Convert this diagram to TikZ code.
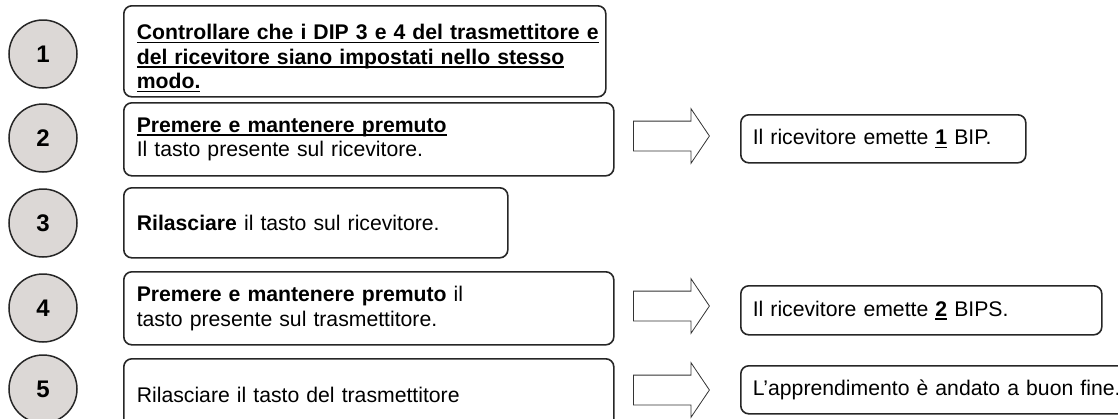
\documentclass[tikz,border=0pt]{standalone}
\usepackage{fontspec}
\setmainfont{Liberation Sans}
\usetikzlibrary{shapes.arrows}
\definecolor{discgray}{RGB}{220,216,214}
\definecolor{edgegray}{RGB}{38,38,38}
\newcommand{\undl}[1]{\leavevmode\setbox0\hbox{#1}\rlap{\rule[-3.8pt]{\wd0}{1.8pt}}\box0\relax}

\tikzset{
    stepnum/.style={circle, draw=edgegray, line width=1.5pt, fill=discgray,
        minimum size=68pt, inner sep=0pt, font=\fontsize{24}{28}\selectfont\bfseries},
    stepbox/.style={draw=edgegray, line width=1.6pt, rounded corners=8pt,
        anchor=north west, inner xsep=13pt, inner ysep=2pt, align=left,
        font=\fontsize{21.2}{24.5}\selectfont},
    resbox/.style={stepbox, inner xsep=12pt},
    blockarrow/.style={single arrow, draw=black!80, line width=0.8pt, fill=white,
        minimum height=76pt, inner xsep=0pt, inner ysep=14.5pt,
        single arrow head extend=12.5pt, single arrow tip angle=112, anchor=tail}
}

\begin{document}
\begin{tikzpicture}[x=1pt, y={(0pt,-1pt)}]
        \useasboundingbox (0,0) rectangle (1118,418);
        \clip (0,0) rectangle (1118,418);
        
        \node[stepnum] (n1) at (43,54) {1};
        \node[stepnum] (n2) at (43,138) {2};
        \node[stepnum] (n3) at (43,223) {3};
        \node[stepnum] (n4) at (43,308) {4};
        \node[stepnum] (n5) at (43,389) {5};
        
        
        \node[stepbox, text width=456pt, minimum height=91pt] (box1) at (123,5)
            {\rule{0pt}{29.5pt}\undl{\textbf{Controllare che i DIP 3 e 4 del trasmettitore e}}\\
             \undl{\textbf{del ricevitore siano impostati nello stesso}}\\
             \undl{\textbf{modo.}}};
        \node[stepbox, text width=464pt, minimum height=73pt] (box2) at (123,102)
            {\undl{\textbf{Premere e mantenere premuto}}\\
             Il tasto presente sul ricevitore.};
        \node[stepbox, text width=358pt, minimum height=70pt] (box3) at (123,187)
            {\textbf{Rilasciare} il tasto sul ricevitore.};
        \node[stepbox, text width=464pt, minimum height=73pt] (box4) at (123,271)
            {\textbf{Premere e mantenere premuto} il\\
             tasto presente sul trasmettitore.};
        \node[stepbox, text width=464pt, minimum height=73pt] (box5) at (123,358)
            {Rilasciare il tasto del trasmettitore};
        
        
        \node[blockarrow] (arr2) at (633,136) {};
        \node[blockarrow] (arr4) at (633,306) {};
        \node[blockarrow] (arr5) at (633,390) {};
        
        
        \node[resbox, text width=261pt, minimum height=48pt] (res2) at (740,114)
            {Il ricevitore emette \undl{\textbf{1}} BIP.};
        \node[resbox, text width=337pt, minimum height=49pt] (res4) at (740,285)
            {Il ricevitore emette \undl{\textbf{2}} BIPS.};
        \node[resbox, text width=364pt, minimum height=48pt] (res5) at (740,365)
            {\mbox{L’apprendimento è andato a buon fine.}};
    \end{tikzpicture}
\end{document}
